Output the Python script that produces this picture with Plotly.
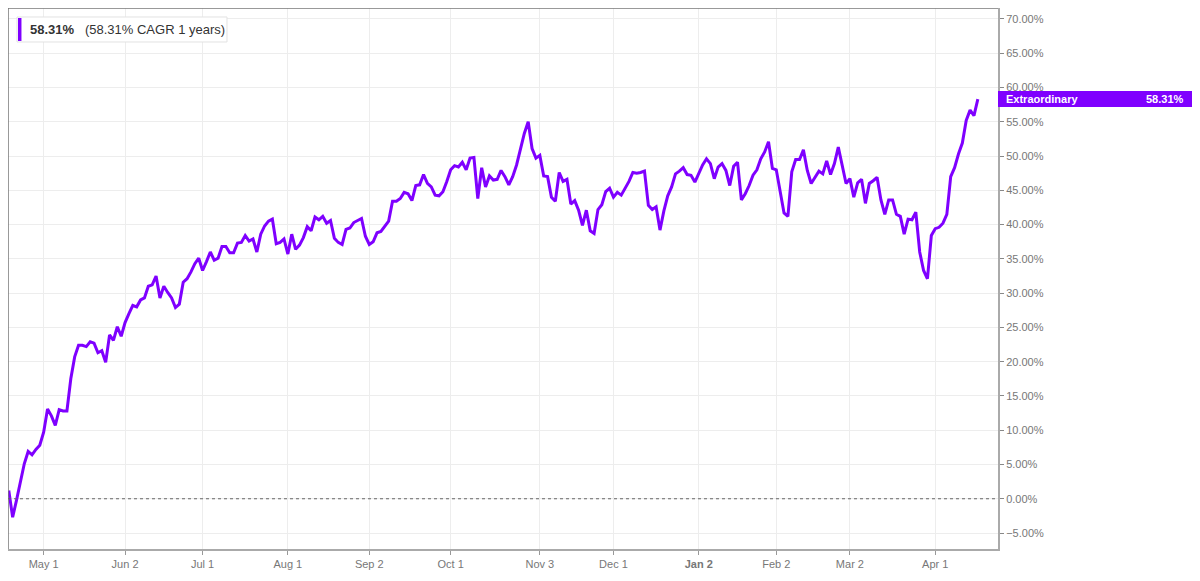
import pandas as pd
import plotly.graph_objects as go

# trading calendar (NYSE holidays removed)
holidays = ["2025-04-18", "2025-05-26", "2025-06-19", "2025-07-04", "2025-09-01",
            "2025-11-27", "2025-12-25", "2026-01-01", "2026-01-19", "2026-02-16",
            "2026-04-03"]
dates = [d.strftime("%Y-%m-%d") for d in pd.bdate_range("2025-04-17", "2026-04-17")
         if d.strftime("%Y-%m-%d") not in holidays]

# cumulative return, %
returns = [
    1.2, -2.7, -0.2, 2.4, 5.1, 6.9, 6.4, 7.2, 7.8, 9.7,
    13.1, 12.1, 10.7, 13.0, 12.8, 12.8, 17.5, 20.7, 22.4, 22.4,
    22.2, 22.9, 22.7, 21.3, 21.6, 19.9, 23.9, 23.1, 25.1, 23.7,
    25.7, 27.0, 28.2, 28.0, 29.0, 29.3, 31.0, 31.2, 32.5, 29.3,
    31.0, 30.1, 29.3, 27.9, 28.4, 31.6, 32.1, 33.1, 34.3, 35.1,
    33.3, 34.6, 36.0, 34.8, 35.1, 36.8, 36.8, 35.9, 35.9, 37.3,
    37.4, 38.4, 37.6, 37.9, 36.0, 38.6, 39.8, 40.5, 40.8, 37.2,
    37.4, 37.9, 35.7, 38.6, 36.4, 37.0, 38.1, 39.7, 39.1, 41.1,
    40.7, 41.2, 40.2, 40.6, 38.0, 37.4,
    37.1, 39.3, 39.5, 40.3, 40.6, 40.9, 38.3, 37.1, 37.5, 38.8,
    39.0, 39.8, 40.5, 43.4, 43.4, 43.8, 44.7, 44.5, 43.5, 45.7,
    45.8, 47.3, 46.0, 45.5, 44.3, 44.2, 44.8, 46.3, 48.0, 48.6,
    48.4, 49.1, 48.0, 49.7, 49.8, 43.8, 48.3, 45.5, 47.1, 46.5,
    46.6, 47.9, 47.0, 45.8, 47.0, 48.7, 50.9, 53.3, 55.0, 51.1,
    49.7, 50.1, 47.1, 47.0, 44.0, 43.4, 47.6, 46.3, 46.6, 43.0,
    43.5, 42.1, 39.9, 42.1, 39.1, 38.7, 42.2, 42.9, 44.8, 45.3,
    44.0, 44.7, 44.3, 45.2, 46.3, 47.6, 47.5, 47.6, 47.8, 42.8,
    42.2, 42.6,
    39.2, 42.0, 44.2, 45.5, 47.4, 47.8, 48.3, 47.3, 47.2, 46.2,
    47.4, 48.7, 49.6, 48.9, 46.7, 48.4, 48.9, 47.9, 45.7, 48.5,
    49.1, 43.6, 44.5, 45.7, 47.2, 48.0, 49.6, 50.6, 52.1, 48.2,
    48.0, 45.0, 41.7, 41.2, 47.7, 49.5, 49.5, 50.9, 47.9, 46.0,
    46.9, 47.8, 47.4, 49.3, 47.3, 48.9, 51.3, 48.4, 46.0, 46.7,
    44.0, 46.1, 46.6, 43.1, 46.0, 46.4, 46.9, 43.6, 41.5, 43.6,
    43.6, 41.5, 41.2, 38.6, 40.8, 40.7, 41.8, 36.0, 33.3, 32.1,
    38.4, 39.4, 39.6, 40.2, 41.5, 47.0, 48.3, 50.3, 51.9, 55.2,
    56.7, 55.9, 58.31,
]
n = min(len(dates), len(returns))
dates, returns = dates[:n], returns[:n]

tick_dates = ["2025-05-01", "2025-06-02", "2025-07-01", "2025-08-01", "2025-09-02",
              "2025-10-01", "2025-11-03", "2025-12-01", "2026-01-02", "2026-02-02",
              "2026-03-02", "2026-04-01"]
tick_text = ["May 1", "Jun 2", "Jul 1", "Aug 1", "Sep 2", "Oct 1", "Nov 3", "Dec 1",
             "<b>Jan 2</b>", "Feb 2", "Mar 2", "Apr 1"]

series_name = "Extraordinary"
last_label = "58.31%"
legend_text = "58.31%"
legend_note = "(58.31% CAGR 1 years)"

PURPLE = "#7f00ff"
FONT = "Liberation Sans, Arial, sans-serif"

fig = go.Figure()
fig.add_trace(go.Scatter(x=dates, y=returns, mode="lines",
                         line=dict(color=PURPLE, width=3), name=series_name,
                         showlegend=False))

# page body adds an 8px offset, so the figure is 1192x573
fig.update_layout(
    width=1192, height=573,
    margin=dict(l=0, r=202, t=0, b=32),
    paper_bgcolor="white", plot_bgcolor="white",
    font=dict(family=FONT, size=11, color="#777"),
    xaxis=dict(type="category", range=[-0.2, 255.2],
               tickmode="array", tickvals=tick_dates, ticktext=tick_text,
               showgrid=True, gridcolor="#ededed", gridwidth=1,
               showline=True, linecolor="#aaa", linewidth=2, mirror=False,
               ticks="outside", ticklen=4, tickcolor="#999",
               tickfont=dict(size=11, color="#777")),
    yaxis=dict(side="right", range=[-7.33, 71.6], dtick=5, tick0=0,
               tickformat=".2f", ticksuffix="%",
               showgrid=True, gridcolor="#ededed", gridwidth=1, zeroline=False,
               showline=True, linecolor="#aaa", linewidth=2,
               ticks="outside", ticklen=4, tickcolor="#888",
               tickfont=dict(size=11, color="#777")),
)

# left and top frame
fig.add_shape(type="line", xref="paper", yref="paper", x0=0, x1=0, y0=0, y1=1,
              line=dict(color="#777", width=1.5))
fig.add_shape(type="line", xref="paper", yref="paper", x0=0, x1=1, y0=1, y1=1,
              line=dict(color="#777", width=1.5))

# dotted zero line
fig.add_shape(type="line", xref="paper", yref="y", x0=0, x1=1, y0=0, y1=0,
              line=dict(color="#666", width=1, dash="dot"))

# legend box
fig.add_shape(type="rect", xref="paper", yref="paper",
              x0=0.00909, x1=0.2212, y0=0.9372, y1=0.9834,
              fillcolor="white", line=dict(color="#e2e2e2", width=1))
fig.add_shape(type="rect", xref="paper", yref="paper",
              x0=0.0101, x1=0.0136, y0=0.939, y1=0.9815,
              fillcolor=PURPLE, line=dict(width=0))
fig.add_annotation(xref="paper", yref="paper", x=0.0202, y=0.9603,
                   xanchor="left", yanchor="middle", showarrow=False,
                   text="<b>" + legend_text + "</b>&nbsp;&nbsp;&nbsp;" + legend_note,
                   font=dict(family=FONT, size=13, color="#333"))

# last value label on the right
fig.add_shape(type="rect", xref="paper", yref="y", x0=1.0, x1=1.196,
              y0=returns[-1] - 1.17, y1=returns[-1] + 1.17,
              fillcolor=PURPLE, line=dict(width=0))
fig.add_annotation(xref="paper", yref="y", x=1.006, y=returns[-1],
                   xanchor="left", yanchor="middle", showarrow=False,
                   text="<b>" + series_name + "</b>",
                   font=dict(family=FONT, size=11, color="white"))
fig.add_annotation(xref="paper", yref="y", x=1.19, y=returns[-1],
                   xanchor="right", yanchor="middle", showarrow=False,
                   text="<b>" + last_label + "</b>",
                   font=dict(family=FONT, size=11, color="white"))

fig.write_html("out.html")
